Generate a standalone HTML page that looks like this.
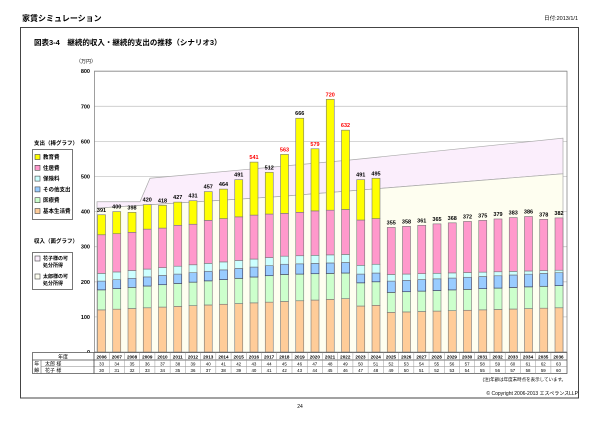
<!DOCTYPE html>
<html><head><meta charset="utf-8"><style>
html,body{margin:0;padding:0;background:#fff;}
svg{display:block;font-family:"Liberation Sans","Noto Sans CJK JP",sans-serif;}
</style></head><body>
<svg id="s" width="600" height="424" viewBox="0 0 600 424" xmlns="http://www.w3.org/2000/svg">
<text x="22" y="21" font-size="8" font-weight="bold">家賃シミュレーション</text>
<text x="578" y="20" font-size="5.5" text-anchor="end">日付:2013/1/1</text>
<rect x="20.5" y="27.5" width="558" height="370.5" fill="none" stroke="#444" stroke-width="1"/>
<text x="34" y="45" font-size="7.5" font-weight="bold">図表3-4　継続的収入・継続的支出の推移（シナリオ3）</text>
<text x="76" y="63" font-size="5">（万円）</text>
<g id="grid"></g>
<g id="areas"></g>
<g id="bars"></g>
<g id="tbl"></g>
<text x="34" y="145" font-size="5.5" font-weight="bold">支出（棒グラフ）</text>
<rect x="32.5" y="149.5" width="40" height="70" fill="#fff" stroke="#555" stroke-width="0.8"/>
<g font-size="5.5" font-weight="bold" id="leg"></g>
<text x="34" y="243" font-size="5.5" font-weight="bold">収入（面グラフ）</text>
<rect x="32.5" y="252.5" width="40" height="37" fill="#fff" stroke="#555" stroke-width="0.8"/>
<rect x="35" y="256" width="5" height="5" fill="#fbeefc" stroke="#444" stroke-width="0.6"/>
<text x="43" y="260" font-size="5" font-weight="bold">花子様の可</text>
<text x="43" y="267" font-size="5" font-weight="bold">処分所得</text>
<rect x="35" y="274" width="5" height="5" fill="#fefef0" stroke="#444" stroke-width="0.6"/>
<text x="43" y="278" font-size="5" font-weight="bold">太郎様の可</text>
<text x="43" y="285" font-size="5" font-weight="bold">処分所得</text>
<text x="566" y="381" font-size="4.5" text-anchor="end">(注)年齢は年度末時点を表示しています。</text>
<text x="578" y="395" font-size="5" text-anchor="end">© Copyright 2006-2013 エスペランスLLP</text>
<text x="300" y="408" font-size="5" text-anchor="middle">24</text>
</svg>
<script>
var NS="http://www.w3.org/2000/svg";
function el(p,t,a,tx){var e=document.createElementNS(NS,t);for(var k in a)e.setAttribute(k,a[k]);if(tx!==undefined)e.textContent=tx;document.getElementById(p).appendChild(e);return e;}
function Y(v){return 352-0.351*v;}
// grid
for(var v=0;v<=800;v+=100){if(v>0)el("grid","line",{x1:94,x2:567,y1:Y(v),y2:Y(v),stroke:"#c8c8c8","stroke-width":0.8});
el("grid","text",{x:90,y:Y(v)+2,"font-size":5.5,"font-weight":"bold","text-anchor":"end"},String(v));}
el("grid","rect",{x:94.5,y:Y(800),width:472.5,height:Y(0)-Y(800),fill:"none",stroke:"#888","stroke-width":0.8});
// legend
var lc=[["#ffff00","教育費"],["#ff99cc","住居費"],["#ccffff","保険料"],["#99ccff","その他支出"],["#ccffcc","医療費"],["#ffcc99","基本生活費"]];
lc.forEach(function(c,i){var y=154.5+i*10.8;el("leg","rect",{x:35,y:y,width:5,height:5,fill:c[0],stroke:"#444","stroke-width":0.6});el("leg","text",{x:43,y:y+4.5},c[1]);});
// areas
function cx(i){return 101.5+i*15.25;}
var x0=97,x1=563;
function lowV(x){return x<=280?410+(x-97)*0.18:443+(x-280)*0.229;}
function upV(x){if(x<140)return 428;if(x<150)return 428+(x-140)*6.7;return x<=350?495+(x-150)*0.26:547+(x-350)*0.292;}
var xs=[97,140,150,280,350,563];
var up=xs.map(function(x){return x+","+Y(upV(x));});
var lo=xs.map(function(x){return x+","+Y(lowV(x));});
el("areas","polygon",{points:up.join(" ")+" "+lo.slice().reverse().join(" "),fill:"#fbeefc",stroke:"#aaa","stroke-width":0.7});
el("areas","polygon",{points:lo.join(" ")+" "+x1+","+Y(0)+" "+x0+","+Y(0),fill:"#fefef0",stroke:"#aaa","stroke-width":0.7});
// data
var tot=[391,400,398,420,418,427,431,457,464,491,541,512,563,666,579,720,632,491,495,355,358,361,365,368,372,375,379,383,386,378,382];
function interp(k,i){for(var j=0;j<k.length-1;j++){if(i>=k[j][0]&&i<=k[j+1][0]){var a=k[j],b=k[j+1];return a[1]+(b[1]-a[1])*(i-a[0])/(b[0]-a[0]||1);}}return k[k.length-1][1];}
var K=[
[[0,120],[16,152],[17,131],[18,133],[19,113],[30,126]],
[[0,177],[12,221],[16,225],[17,197],[18,200],[19,170],[30,189]],
[[0,202],[12,250],[16,255],[17,222],[18,225],[19,202],[30,226]],
[[0,224],[12,273],[16,278],[17,247],[18,250],[19,221],[30,233]]];
var L5=[334,337,341,350,353,361,364,375,380,385,390,393,395,398,402,404,406,376,380];
var cols=["#ffcc99","#ccffcc","#99ccff","#ccffff","#ff99cc","#ffff00"];
var red={541:1,563:1,579:1,720:1,632:1};
for(var i=0;i<31;i++){
 var lv=[0];K.forEach(function(k){lv.push(interp(k,i));});
 lv.push(i<19?L5[i]:tot[i]);lv.push(tot[i]);
 var x=cx(i)-4;
 for(var s=0;s<6;s++){if(lv[s+1]-lv[s]<=0.1)continue;
  el("bars","rect",{x:x,y:Y(lv[s+1]),width:8,height:Y(lv[s])-Y(lv[s+1]),fill:cols[s],stroke:s==2?"#335":"#777","stroke-width":0.6});}
 el("bars","text",{x:cx(i),y:Y(tot[i])-3,"font-size":5.5,"font-weight":"bold","text-anchor":"middle",fill:red[tot[i]]?"#f00":"#000"},String(tot[i]));
}
// table
var ty=[352.5,360,366.7,373.5];
el("tbl","rect",{x:32.5,y:352.5,width:534.5,height:21,fill:"#fff",stroke:"#444","stroke-width":0.7});
el("tbl","line",{x1:32.5,x2:567,y1:360,y2:360,stroke:"#444","stroke-width":0.7});
el("tbl","line",{x1:41,x2:567,y1:366.7,y2:366.7,stroke:"#888","stroke-width":0.5});
el("tbl","line",{x1:41,x2:41,y1:360,y2:373.5,stroke:"#444","stroke-width":0.5});
el("tbl","line",{x1:94,x2:94,y1:352.5,y2:373.5,stroke:"#444","stroke-width":0.8});
el("tbl","text",{x:63,y:358.5,"font-size":5,"text-anchor":"middle"},"年度");
el("tbl","text",{x:36.7,y:365.5,"font-size":5,"text-anchor":"middle"},"年");
el("tbl","text",{x:36.7,y:372,"font-size":5,"text-anchor":"middle"},"齢");
el("tbl","text",{x:45,y:365.5,"font-size":5},"太郎 様");
el("tbl","text",{x:45,y:372,"font-size":5},"花子 様");
for(var i=0;i<31;i++){var x=94+i*15.23;
 if(i>0)el("tbl","line",{x1:x,x2:x,y1:352.5,y2:373.5,stroke:"#999","stroke-width":0.5});
 var c=x+7.6;
 el("tbl","text",{x:c,y:358.5,"font-size":4.6,"font-weight":"bold","text-anchor":"middle"},String(2006+i));
 el("tbl","text",{x:c,y:365.3,"font-size":4.4,"text-anchor":"middle"},String(33+i));
 el("tbl","text",{x:c,y:372,"font-size":4.4,"text-anchor":"middle"},String(30+i));
}
</script>
</body></html>
